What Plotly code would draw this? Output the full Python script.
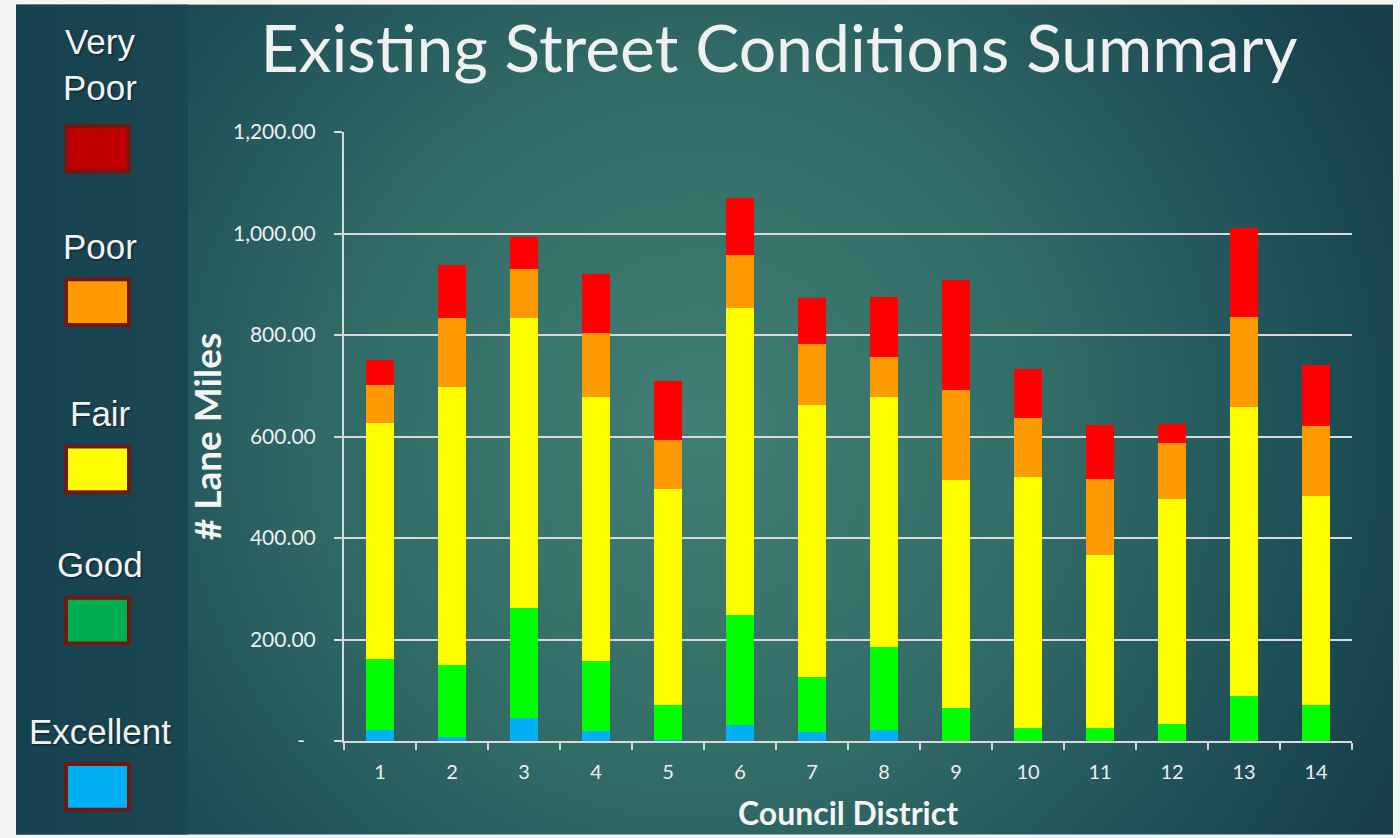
import base64
import plotly.graph_objects as go

# ---------------- data ----------------
districts = ["1", "2", "3", "4", "5", "6", "7", "8", "9", "10", "11", "12", "13", "14"]
excellent = [22, 7, 46, 20, 2, 31, 18, 22, 0, 0, 0, 0, 0, 0]
good = [139, 142, 216, 138, 68, 218, 109, 164, 66, 26, 26, 34, 89, 71]
fair = [465, 548, 571, 520, 426, 605, 536, 492, 449, 494, 340, 442, 570, 412]
poor = [75, 136, 98, 125, 97, 103, 119, 78, 176, 117, 151, 111, 177, 137]
very_poor = [49, 104, 62, 118, 116, 113, 90, 119, 218, 96, 105, 38, 174, 120]

y_tickvals = [0, 200, 400, 600, 800, 1000, 1200]
y_ticktext = ["-\u00a0\u00a0", "200.00", "400.00", "600.00", "800.00", "1,000.00", "1,200.00"]

series_names = ["Excellent", "Good", "Fair", "Poor", "Very Poor"]
bar_colors = ["#00b0f0", "#00ff00", "#ffff00", "#ff9900", "#ff0000"]

legend_labels = ["Very<br>Poor", "Poor", "Fair", "Good", "Excellent"]
legend_colors = ["#c00000", "#ff9900", "#ffff00", "#00b050", "#00b0f0"]

title_text = "Existing Street Conditions Summary"
x_title = "Council District"
y_title = "# Lane Miles"

# ---------------- geometry ----------------
W, H = 1400, 838
L, R, T, B = 344, 48, 132, 94
PW, PH = W - L - R, H - T - B


def px(x):
    return (x - L) / PW


def py(y):
    return 1 - (y - T) / PH


# background: white frame, radial teal gradient, darker legend panel
svg = f"""<svg xmlns='http://www.w3.org/2000/svg' width='{W}' height='{H}' viewBox='0 0 {W} {H}'>
<defs>
<radialGradient id='g' gradientUnits='userSpaceOnUse' cx='700' cy='430' r='780'>
<stop offset='0' stop-color='#417e74'/>
<stop offset='0.45' stop-color='#326c67'/>
<stop offset='0.8' stop-color='#1e4f57'/>
<stop offset='1' stop-color='#163f4a'/>
</radialGradient>
<linearGradient id='p' x1='0' y1='0' x2='1' y2='0'>
<stop offset='0' stop-color='#174250'/>
<stop offset='1' stop-color='#1a4852'/>
</linearGradient>
</defs>
<rect x='0' y='0' width='{W}' height='{H}' fill='#f4f4f4'/>
<rect x='16' y='4' width='1377' height='{H}' fill='url(#g)'/>
<rect x='16' y='4' width='172' height='{H}' fill='url(#p)'/>
</svg>"""
bg_src = "data:image/svg+xml;base64," + base64.b64encode(svg.encode()).decode()

fig = go.Figure()
for name, vals, col in zip(series_names, [excellent, good, fair, poor, very_poor], bar_colors):
    fig.add_trace(go.Bar(x=districts, y=vals, name=name, marker=dict(color=col, line=dict(width=0)),
                         width=0.4))

axis_col = "#d9d9d9"
fig.update_layout(
    width=W, height=H,
    margin=dict(l=L, r=R, t=T, b=B, pad=0),
    barmode="stack",
    showlegend=False,
    paper_bgcolor="#f4f4f4",
    plot_bgcolor="rgba(0,0,0,0)",
    title=dict(text=title_text, x=779 / W, xanchor="center", y=1 - 49 / H, yanchor="middle",
               xref="container", yref="container",
               font=dict(family="Lato", size=66, color="#f0f0f0", weight=400)),
    xaxis=dict(
        type="category", categoryorder="array", categoryarray=districts,
        showline=True, linecolor=axis_col, linewidth=2,
        ticks="outside", tickson="boundaries", ticklen=7, tickwidth=2, tickcolor=axis_col,
        ticklabelstandoff=12,
        tickfont=dict(family="Lato", size=20, color="#eeeeee"),
        showgrid=False,
        title=dict(text=x_title, standoff=21,
                   font=dict(family="Lato", size=32, color="#f4f4f4", weight="bold")),
    ),
    yaxis=dict(
        range=[0, 1200], tickvals=y_tickvals, ticktext=y_ticktext,
        showline=True, linecolor=axis_col, linewidth=2,
        ticks="outside", ticklen=8, tickwidth=2, tickcolor=axis_col,
        ticklabelstandoff=14,
        tickfont=dict(family="Lato", size=21, color="#eeeeee"),
        showgrid=True, gridcolor=axis_col, gridwidth=2,
        zeroline=False,
        title=dict(text=y_title, standoff=0,
                   font=dict(family="Lato", size=37, color="#f4f4f4", weight="bold")),
    ),
    images=[dict(source=bg_src, xref="paper", yref="paper", x=px(0), y=py(0),
                 sizex=W / PW, sizey=H / PH, xanchor="left", yanchor="top",
                 sizing="stretch", layer="below")],
)

# custom legend on the left panel
label_y = [64, 247, 415, 567, 734]
swatch_top = [126, 280, 448, 600, 767]
sw_h = 46
for lab, col, ly, st in zip(legend_labels, legend_colors, label_y, swatch_top):
    fig.add_annotation(text=lab, xref="paper", yref="paper", x=px(100), y=py(ly),
                       xanchor="center", yanchor="middle", showarrow=False, align="center",
                       font=dict(family="Liberation Sans, Arial", size=35, color="#f2f2f2",
                                 shadow="1px 1px 2px #0b2026"))
    fig.add_shape(type="rect", xref="paper", yref="paper",
                  x0=px(66), x1=px(129), y0=py(st), y1=py(st + sw_h),
                  fillcolor=col, line=dict(color="#6e1a14", width=4), layer="above")

fig.write_html("out.html", config={"displayModeBar": False},
               post_script="document.body.style.margin='0';document.body.style.overflow='hidden';")
